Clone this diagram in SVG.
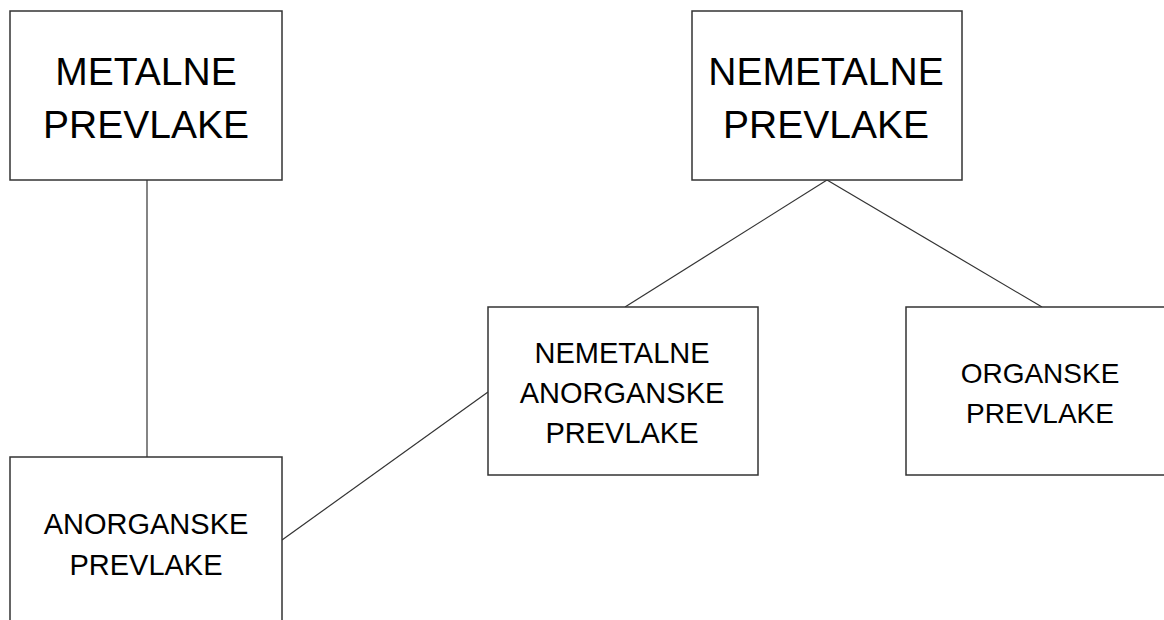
<svg xmlns="http://www.w3.org/2000/svg" width="1164" height="620" viewBox="0 0 1164 620">
<style>
.box{fill:#fff;stroke:#333;stroke-width:1.5}
.big{font-family:"Liberation Sans",Arial,sans-serif;font-size:39px;fill:#000;text-anchor:middle}
.small{font-family:"Liberation Sans",Arial,sans-serif;font-size:29px;fill:#000;text-anchor:middle}
.con{stroke:#333;stroke-width:1.2;fill:none}
</style>
<rect width="1164" height="620" fill="#fff"/>
<g id="connectors">
<line class="con" x1="147" y1="180" x2="147" y2="457"/>
<line class="con" x1="827" y1="180" x2="625" y2="307"/>
<line class="con" x1="827" y1="180" x2="1042" y2="307"/>
<line class="con" x1="488" y1="392" x2="282" y2="540"/>
</g>
<g id="metalne">
<rect class="box" x="10" y="11" width="272" height="169"/>
<text class="big" x="146" y="85">METALNE</text>
<text class="big" x="146" y="138">PREVLAKE</text>
</g>
<g id="nemetalne">
<rect class="box" x="692" y="11" width="270" height="169"/>
<text class="big" x="826" y="85">NEMETALNE</text>
<text class="big" x="826" y="138">PREVLAKE</text>
</g>
<g id="nemetalne-anorganske">
<rect class="box" x="488" y="307" width="270" height="168"/>
<text class="small" x="622" y="363">NEMETALNE</text>
<text class="small" x="622" y="403">ANORGANSKE</text>
<text class="small" x="622" y="443">PREVLAKE</text>
</g>
<g id="organske">
<rect class="box" x="906" y="307" width="270" height="168"/>
<text class="small" x="1040" y="383" style="font-size:28px">ORGANSKE</text>
<text class="small" x="1040" y="423" style="font-size:28px">PREVLAKE</text>
</g>
<g id="anorganske">
<rect class="box" x="10" y="457" width="272" height="180"/>
<text class="small" x="146" y="534">ANORGANSKE</text>
<text class="small" x="146" y="575">PREVLAKE</text>
</g>
</svg>
